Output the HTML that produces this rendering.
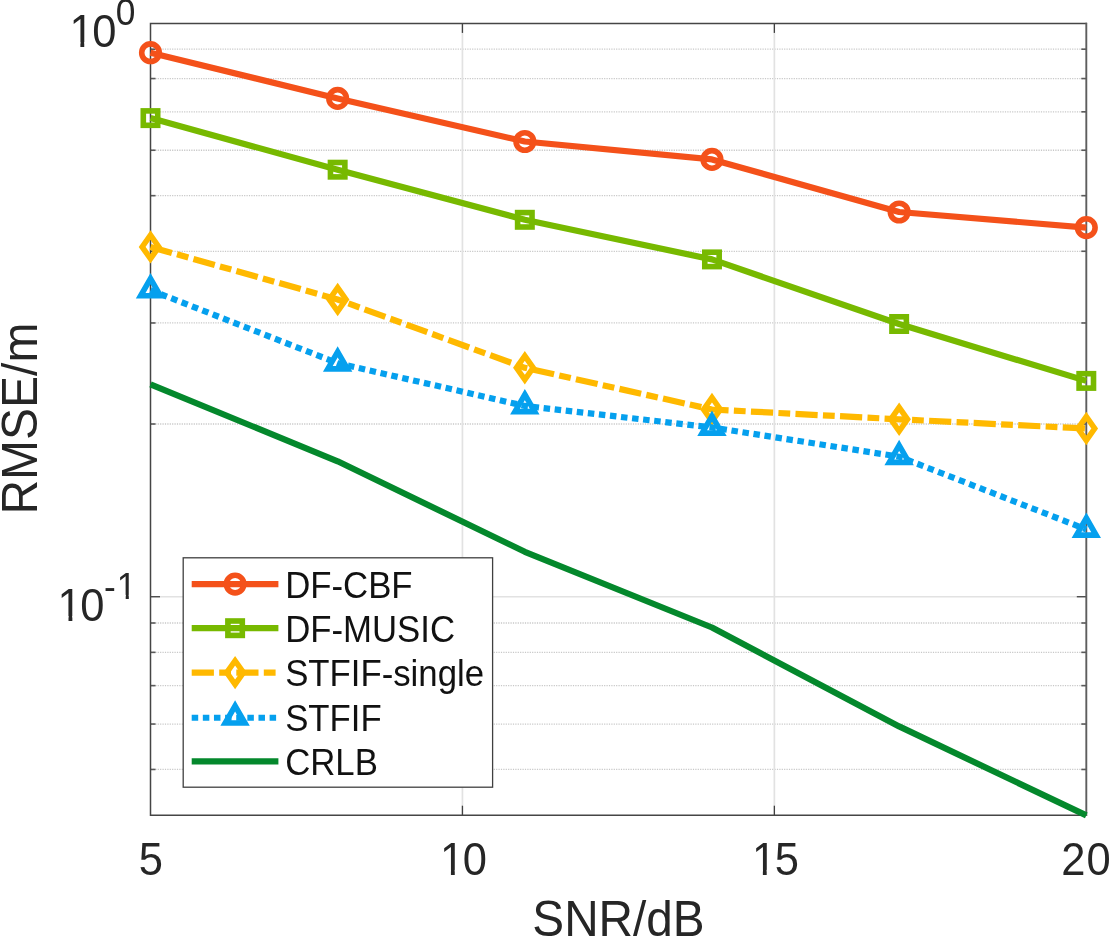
<!DOCTYPE html>
<html><head><meta charset="utf-8"><title>RMSE vs SNR</title>
<style>html,body{margin:0;padding:0;background:#fff}svg{will-change:transform}svg text{font-family:"Liberation Sans",sans-serif}</style></head>
<body>
<svg width="1109" height="937" viewBox="0 0 1109 937" style="display:block">
<rect width="1109" height="937" fill="#fff"/>
<line x1="150.5" x2="1086.3" y1="49.20" y2="49.20" stroke="#c8c8c8" stroke-width="1.3" stroke-dasharray="1.2 1.2"/>
<line x1="150.5" x2="1086.3" y1="78.55" y2="78.55" stroke="#c8c8c8" stroke-width="1.3" stroke-dasharray="1.2 1.2"/>
<line x1="150.5" x2="1086.3" y1="111.82" y2="111.82" stroke="#c8c8c8" stroke-width="1.3" stroke-dasharray="1.2 1.2"/>
<line x1="150.5" x2="1086.3" y1="150.24" y2="150.24" stroke="#c8c8c8" stroke-width="1.3" stroke-dasharray="1.2 1.2"/>
<line x1="150.5" x2="1086.3" y1="195.67" y2="195.67" stroke="#c8c8c8" stroke-width="1.3" stroke-dasharray="1.2 1.2"/>
<line x1="150.5" x2="1086.3" y1="251.28" y2="251.28" stroke="#c8c8c8" stroke-width="1.3" stroke-dasharray="1.2 1.2"/>
<line x1="150.5" x2="1086.3" y1="322.97" y2="322.97" stroke="#c8c8c8" stroke-width="1.3" stroke-dasharray="1.2 1.2"/>
<line x1="150.5" x2="1086.3" y1="424.01" y2="424.01" stroke="#c8c8c8" stroke-width="1.3" stroke-dasharray="1.2 1.2"/>
<line x1="150.5" x2="1086.3" y1="623.00" y2="623.00" stroke="#c8c8c8" stroke-width="1.3" stroke-dasharray="1.2 1.2"/>
<line x1="150.5" x2="1086.3" y1="652.35" y2="652.35" stroke="#c8c8c8" stroke-width="1.3" stroke-dasharray="1.2 1.2"/>
<line x1="150.5" x2="1086.3" y1="685.62" y2="685.62" stroke="#c8c8c8" stroke-width="1.3" stroke-dasharray="1.2 1.2"/>
<line x1="150.5" x2="1086.3" y1="724.04" y2="724.04" stroke="#c8c8c8" stroke-width="1.3" stroke-dasharray="1.2 1.2"/>
<line x1="150.5" x2="1086.3" y1="769.47" y2="769.47" stroke="#c8c8c8" stroke-width="1.3" stroke-dasharray="1.2 1.2"/>
<line x1="150.5" x2="1086.3" y1="596.74" y2="596.74" stroke="#e2e2e2" stroke-width="1.7"/>
<line x1="462.43" x2="462.43" y1="23.4" y2="815.2" stroke="#e2e2e2" stroke-width="1.7"/>
<line x1="774.37" x2="774.37" y1="23.4" y2="815.2" stroke="#e2e2e2" stroke-width="1.7"/>
<line x1="462.43" x2="462.43" y1="815.2" y2="805.7" stroke="#404040" stroke-width="1.3"/>
<line x1="462.43" x2="462.43" y1="23.4" y2="32.9" stroke="#404040" stroke-width="1.3"/>
<line x1="774.37" x2="774.37" y1="815.2" y2="805.7" stroke="#404040" stroke-width="1.3"/>
<line x1="774.37" x2="774.37" y1="23.4" y2="32.9" stroke="#404040" stroke-width="1.3"/>
<line x1="150.5" x2="155.5" y1="49.20" y2="49.20" stroke="#5a5a5a" stroke-width="1.6"/>
<line x1="1086.3" x2="1081.3" y1="49.20" y2="49.20" stroke="#5a5a5a" stroke-width="1.6"/>
<line x1="150.5" x2="155.5" y1="78.55" y2="78.55" stroke="#5a5a5a" stroke-width="1.6"/>
<line x1="1086.3" x2="1081.3" y1="78.55" y2="78.55" stroke="#5a5a5a" stroke-width="1.6"/>
<line x1="150.5" x2="155.5" y1="111.82" y2="111.82" stroke="#5a5a5a" stroke-width="1.6"/>
<line x1="1086.3" x2="1081.3" y1="111.82" y2="111.82" stroke="#5a5a5a" stroke-width="1.6"/>
<line x1="150.5" x2="155.5" y1="150.24" y2="150.24" stroke="#5a5a5a" stroke-width="1.6"/>
<line x1="1086.3" x2="1081.3" y1="150.24" y2="150.24" stroke="#5a5a5a" stroke-width="1.6"/>
<line x1="150.5" x2="155.5" y1="195.67" y2="195.67" stroke="#5a5a5a" stroke-width="1.6"/>
<line x1="1086.3" x2="1081.3" y1="195.67" y2="195.67" stroke="#5a5a5a" stroke-width="1.6"/>
<line x1="150.5" x2="155.5" y1="251.28" y2="251.28" stroke="#5a5a5a" stroke-width="1.6"/>
<line x1="1086.3" x2="1081.3" y1="251.28" y2="251.28" stroke="#5a5a5a" stroke-width="1.6"/>
<line x1="150.5" x2="155.5" y1="322.97" y2="322.97" stroke="#5a5a5a" stroke-width="1.6"/>
<line x1="1086.3" x2="1081.3" y1="322.97" y2="322.97" stroke="#5a5a5a" stroke-width="1.6"/>
<line x1="150.5" x2="155.5" y1="424.01" y2="424.01" stroke="#5a5a5a" stroke-width="1.6"/>
<line x1="1086.3" x2="1081.3" y1="424.01" y2="424.01" stroke="#5a5a5a" stroke-width="1.6"/>
<line x1="150.5" x2="155.5" y1="623.00" y2="623.00" stroke="#5a5a5a" stroke-width="1.6"/>
<line x1="1086.3" x2="1081.3" y1="623.00" y2="623.00" stroke="#5a5a5a" stroke-width="1.6"/>
<line x1="150.5" x2="155.5" y1="652.35" y2="652.35" stroke="#5a5a5a" stroke-width="1.6"/>
<line x1="1086.3" x2="1081.3" y1="652.35" y2="652.35" stroke="#5a5a5a" stroke-width="1.6"/>
<line x1="150.5" x2="155.5" y1="685.62" y2="685.62" stroke="#5a5a5a" stroke-width="1.6"/>
<line x1="1086.3" x2="1081.3" y1="685.62" y2="685.62" stroke="#5a5a5a" stroke-width="1.6"/>
<line x1="150.5" x2="155.5" y1="724.04" y2="724.04" stroke="#5a5a5a" stroke-width="1.6"/>
<line x1="1086.3" x2="1081.3" y1="724.04" y2="724.04" stroke="#5a5a5a" stroke-width="1.6"/>
<line x1="150.5" x2="155.5" y1="769.47" y2="769.47" stroke="#5a5a5a" stroke-width="1.6"/>
<line x1="1086.3" x2="1081.3" y1="769.47" y2="769.47" stroke="#5a5a5a" stroke-width="1.6"/>
<line x1="150.5" x2="160.0" y1="596.74" y2="596.74" stroke="#404040" stroke-width="1.3"/>
<line x1="1086.3" x2="1076.8" y1="596.74" y2="596.74" stroke="#404040" stroke-width="1.3"/>
<path d="M1086.3 23.4L150.5 23.4L150.5 815.2L1086.3 815.2" fill="none" stroke="#454545" stroke-width="1.5" stroke-linejoin="miter" stroke-linecap="square"/>
<line x1="1086.3" x2="1086.3" y1="22.7" y2="815.9000000000001" stroke="#5e5e5e" stroke-width="1.9"/>
<polyline points="150.50,52.70 337.66,98.40 524.82,141.50 711.98,159.40 899.14,212.00 1086.30,227.60" fill="none" stroke="#F4511A" stroke-width="6.2" stroke-linejoin="round"/>
<circle cx="150.50" cy="52.70" r="8.8" fill="none" stroke="#F4511A" stroke-width="5.6"/>
<circle cx="337.66" cy="98.40" r="8.8" fill="none" stroke="#F4511A" stroke-width="5.6"/>
<circle cx="524.82" cy="141.50" r="8.8" fill="none" stroke="#F4511A" stroke-width="5.6"/>
<circle cx="711.98" cy="159.40" r="8.8" fill="none" stroke="#F4511A" stroke-width="5.6"/>
<circle cx="899.14" cy="212.00" r="8.8" fill="none" stroke="#F4511A" stroke-width="5.6"/>
<circle cx="1086.30" cy="227.60" r="8.8" fill="none" stroke="#F4511A" stroke-width="5.6"/>
<polyline points="150.50,118.10 337.66,169.70 524.82,219.80 711.98,259.40 899.14,324.00 1086.30,380.90" fill="none" stroke="#77B900" stroke-width="6.2" stroke-linejoin="round"/>
<rect x="143.30" y="110.90" width="14.4" height="14.4" fill="none" stroke="#77B900" stroke-width="5.6"/>
<rect x="330.46" y="162.50" width="14.4" height="14.4" fill="none" stroke="#77B900" stroke-width="5.6"/>
<rect x="517.62" y="212.60" width="14.4" height="14.4" fill="none" stroke="#77B900" stroke-width="5.6"/>
<rect x="704.78" y="252.20" width="14.4" height="14.4" fill="none" stroke="#77B900" stroke-width="5.6"/>
<rect x="891.94" y="316.80" width="14.4" height="14.4" fill="none" stroke="#77B900" stroke-width="5.6"/>
<rect x="1079.10" y="373.70" width="14.4" height="14.4" fill="none" stroke="#77B900" stroke-width="5.6"/>
<polyline points="150.50,246.90 337.66,299.50 524.82,367.80 711.98,409.50 899.14,419.30 1086.30,428.50" fill="none" stroke="#FFB900" stroke-width="6.2" stroke-linejoin="round" stroke-dasharray="22.2 5.3 11.8 5.3"/>
<path d="M150.50 235.05L158.85 246.90L150.50 258.75L142.15 246.90Z" fill="none" stroke="#FFB900" stroke-width="5.6" stroke-linejoin="miter"/>
<path d="M337.66 287.65L346.01 299.50L337.66 311.35L329.31 299.50Z" fill="none" stroke="#FFB900" stroke-width="5.6" stroke-linejoin="miter"/>
<path d="M524.82 355.95L533.17 367.80L524.82 379.65L516.47 367.80Z" fill="none" stroke="#FFB900" stroke-width="5.6" stroke-linejoin="miter"/>
<path d="M711.98 397.65L720.33 409.50L711.98 421.35L703.63 409.50Z" fill="none" stroke="#FFB900" stroke-width="5.6" stroke-linejoin="miter"/>
<path d="M899.14 407.45L907.49 419.30L899.14 431.15L890.79 419.30Z" fill="none" stroke="#FFB900" stroke-width="5.6" stroke-linejoin="miter"/>
<path d="M1086.30 416.65L1094.65 428.50L1086.30 440.35L1077.95 428.50Z" fill="none" stroke="#FFB900" stroke-width="5.6" stroke-linejoin="miter"/>
<polyline points="150.50,290.10 337.66,363.20 524.82,405.90 711.98,427.45 899.14,456.70 1086.30,529.40" fill="none" stroke="#05A0EE" stroke-width="6.2" stroke-linejoin="round" stroke-dasharray="6.5 4.63"/>
<path d="M150.50 278.70L160.35 295.80L140.65 295.80Z" fill="none" stroke="#05A0EE" stroke-width="5.6" stroke-linejoin="miter"/>
<path d="M337.66 351.80L347.51 368.90L327.81 368.90Z" fill="none" stroke="#05A0EE" stroke-width="5.6" stroke-linejoin="miter"/>
<path d="M524.82 394.50L534.67 411.60L514.97 411.60Z" fill="none" stroke="#05A0EE" stroke-width="5.6" stroke-linejoin="miter"/>
<path d="M711.98 416.05L721.83 433.15L702.13 433.15Z" fill="none" stroke="#05A0EE" stroke-width="5.6" stroke-linejoin="miter"/>
<path d="M899.14 445.30L908.99 462.40L889.29 462.40Z" fill="none" stroke="#05A0EE" stroke-width="5.6" stroke-linejoin="miter"/>
<path d="M1086.30 518.00L1096.15 535.10L1076.45 535.10Z" fill="none" stroke="#05A0EE" stroke-width="5.6" stroke-linejoin="miter"/>
<polyline points="150.50,384.40 337.66,461.30 524.82,551.80 711.98,627.50 899.14,726.40 1086.30,815.40" fill="none" stroke="#04882C" stroke-width="6.2" stroke-linejoin="round"/>
<rect x="183.2" y="557.8" width="309.40000000000003" height="229.4000000000001" fill="#fff" stroke="#404040" stroke-width="1.3"/>
<line x1="191.7" x2="278.4" y1="584.10" y2="584.10" stroke="#F4511A" stroke-width="6.2"/>
<circle cx="235.10" cy="584.10" r="8.8" fill="none" stroke="#F4511A" stroke-width="5.6"/>
<text transform="translate(285.20,597.50) scale(1,1.04)" font-size="34.75" fill="#111">DF-CBF</text>
<line x1="191.7" x2="278.4" y1="628.20" y2="628.20" stroke="#77B900" stroke-width="6.2"/>
<rect x="227.90" y="621.00" width="14.4" height="14.4" fill="none" stroke="#77B900" stroke-width="5.6"/>
<text transform="translate(285.20,641.60) scale(1,1.04)" font-size="34.75" fill="#111">DF-MUSIC</text>
<line x1="191.7" x2="278.4" y1="672.60" y2="672.60" stroke="#FFB900" stroke-width="6.2" stroke-dasharray="22.2 5.3 11.8 5.3"/>
<path d="M235.10 660.75L243.45 672.60L235.10 684.45L226.75 672.60Z" fill="none" stroke="#FFB900" stroke-width="5.6" stroke-linejoin="miter"/>
<text transform="translate(285.20,686.00) scale(1,1.04)" font-size="34.75" fill="#111">STFIF-single</text>
<line x1="191.7" x2="278.4" y1="717.75" y2="717.75" stroke="#05A0EE" stroke-width="6.2" stroke-dasharray="6.5 4.63"/>
<path d="M235.10 705.90L244.95 723.00L225.25 723.00Z" fill="none" stroke="#05A0EE" stroke-width="5.6" stroke-linejoin="miter"/>
<text transform="translate(285.20,730.70) scale(1,1.04)" font-size="34.75" fill="#111">STFIF</text>
<line x1="191.7" x2="278.4" y1="761.35" y2="761.35" stroke="#04882C" stroke-width="6.2"/>
<text transform="translate(285.20,774.50) scale(1,1.04)" font-size="34.75" fill="#111">CRLB</text>
<text transform="translate(150.80,874.90) scale(1,1.06)" font-size="43.5" fill="#262626" text-anchor="middle">5</text>
<g transform="translate(462.73,874.90) scale(1,1.06)"><text x="-24.19" y="0" font-size="43.5" fill="#262626"><tspan dx="1.44">1</tspan><tspan dx="-1.44">0</tspan></text><rect x="-20.71" y="-4.74" width="8.90" height="6.24" fill="#fff"/><rect x="-7.97" y="-4.74" width="8.56" height="6.24" fill="#fff"/></g>
<g transform="translate(774.67,874.90) scale(1,1.06)"><text x="-24.19" y="0" font-size="43.5" fill="#262626"><tspan dx="1.44">1</tspan><tspan dx="-1.44">5</tspan></text><rect x="-20.71" y="-4.74" width="8.90" height="6.24" fill="#fff"/><rect x="-7.97" y="-4.74" width="8.56" height="6.24" fill="#fff"/></g>
<g transform="translate(1086.60,874.90) scale(1,1.06)"><text x="-24.19" y="0" font-size="43.5" fill="#262626"><tspan dx="-1.20">2</tspan><tspan dx="1.20">0</tspan></text></g>
<g transform="translate(116.40,47.24) scale(1,1.06)"><text x="-48.39" y="0" font-size="43.5" fill="#262626"><tspan dx="1.44">1</tspan><tspan dx="-1.44">0</tspan></text><rect x="-44.90" y="-4.74" width="8.90" height="6.24" fill="#fff"/><rect x="-32.16" y="-4.74" width="8.56" height="6.24" fill="#fff"/></g>
<text transform="translate(115.80,25.04) scale(1,1.04)" font-size="35.3" fill="#262626">0</text>
<g transform="translate(104.50,621.04) scale(1,1.06)"><text x="-48.39" y="0" font-size="43.5" fill="#262626"><tspan dx="1.44">1</tspan><tspan dx="-1.44">0</tspan></text><rect x="-44.90" y="-4.74" width="8.90" height="6.24" fill="#fff"/><rect x="-32.16" y="-4.74" width="8.56" height="6.24" fill="#fff"/></g>
<g transform="translate(103.90,598.84) scale(1,1.04)"><text x="0.00" y="0" font-size="35.3" fill="#262626">-<tspan dx="1.17">1</tspan></text><rect x="14.58" y="-3.84" width="7.22" height="5.34" fill="#fff"/><rect x="24.92" y="-3.84" width="6.95" height="5.34" fill="#fff"/></g>
<text transform="translate(618.50,935.80) scale(1,1.04)" font-size="47.7" fill="#262626" text-anchor="middle">SNR/dB</text>
<text transform="translate(36.90,418.60) rotate(-90) scale(1,1.04)" font-size="48.0" fill="#262626" text-anchor="middle">RMSE/m</text>
</svg>
</body></html>
